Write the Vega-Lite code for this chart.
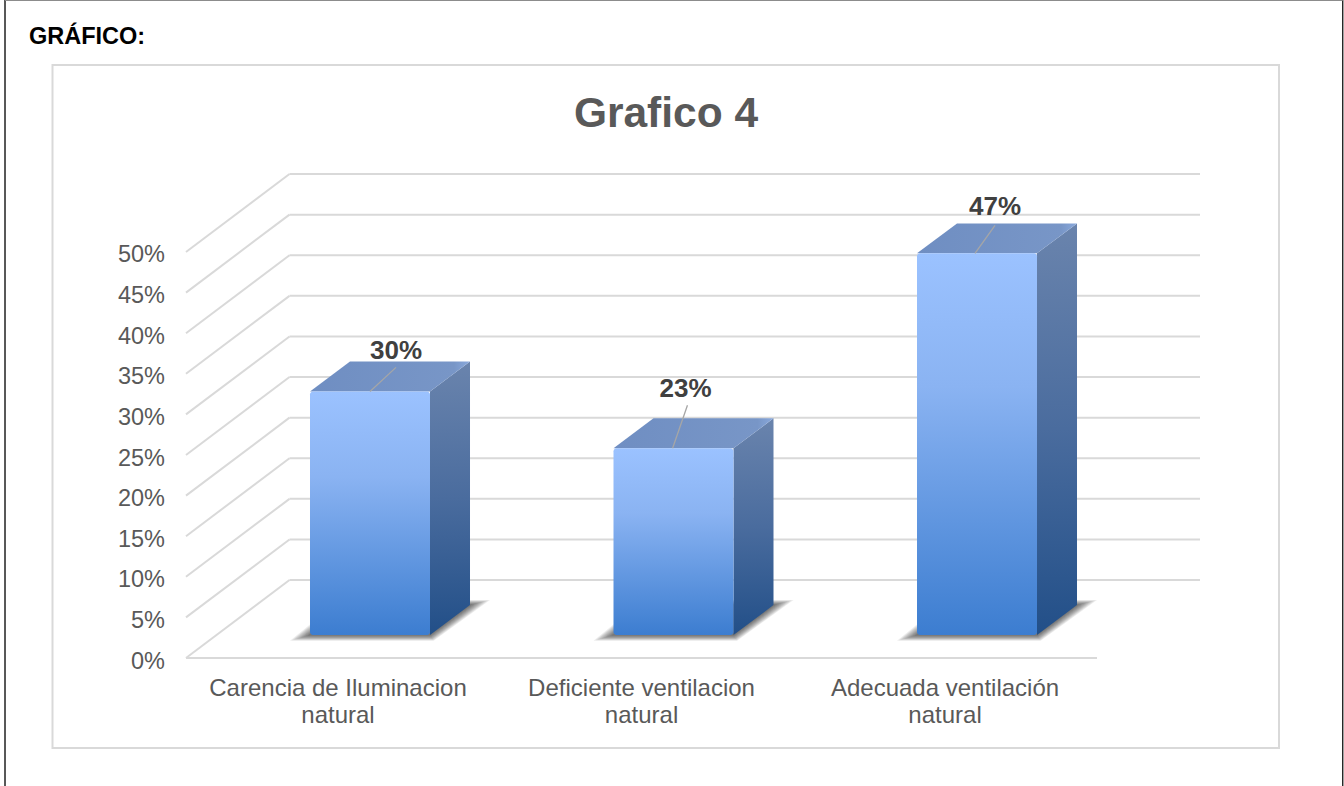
{
  "$schema": "https://vega.github.io/schema/vega-lite/v6.json",
  "width": 1344,
  "height": 786,
  "padding": 0,
  "autosize": "none",
  "background": "#ffffff",
  "title": {
    "text": "Grafico 4",
    "anchor": "middle",
    "frame": "group",
    "dx": -6,
    "dy": 140,
    "font": "Liberation Sans",
    "fontSize": 42.5,
    "fontWeight": "bold",
    "color": "#595959"
  },
  "config": {"view": {"stroke": null}},
  "params": [
    {"name": "semiancho", "value": 0.1977},
    {"name": "fondoX", "value": 0.1318},
    {"name": "fondoY", "value": 3.69},
    {"name": "suelo", "value": 2.83},
    {"name": "paredX", "value": 0.7348},
    {"name": "paredY", "value": 9.6}
  ],
  "datasets": {
    "barras": [
      {"indice": 1, "categoria": "Carencia de Iluminacion\nnatural", "valor": 30},
      {"indice": 2, "categoria": "Deficiente ventilacion\nnatural", "valor": 23},
      {"indice": 3, "categoria": "Adecuada ventilación\nnatural", "valor": 47}
    ],
    "niveles": [
      {"nivel": 0}, {"nivel": 5}, {"nivel": 10}, {"nivel": 15}, {"nivel": 20}, {"nivel": 25},
      {"nivel": 30}, {"nivel": 35}, {"nivel": 40}, {"nivel": 45}, {"nivel": 50}
    ],
    "unico": [{"texto": "GRÁFICO:"}]
  },
  "layer": [
    {
      "data": {"name": "unico"},
      "mark": {"type": "rect", "fill": null, "stroke": "#d9d9d9", "strokeWidth": 2},
      "encoding": {
        "x": {"datum": -0.0461, "type": "quantitative", "axis": null, "scale": {"domain": [-0.2191, 4.2092], "range": [0, 1344], "nice": false, "zero": false}},
        "x2": {"datum": 3.995},
        "y": {"datum": 73.03, "type": "quantitative", "axis": null, "scale": {"domain": [-15.76, 81.03], "range": [786, 0], "nice": false, "zero": false}},
        "y2": {"datum": -11.08}
      }
    },
    {
      "data": {"name": "unico"},
      "mark": {"type": "rule", "stroke": "#111111", "strokeWidth": 1.4},
      "encoding": {
        "x": {"datum": -0.2026, "type": "quantitative", "axis": null},
        "y": {"datum": 81.03, "type": "quantitative", "axis": null},
        "y2": {"datum": -15.76}
      }
    },
    {
      "data": {"name": "unico"},
      "mark": {"type": "rule", "stroke": "#222222", "strokeWidth": 1.4},
      "encoding": {
        "x": {"datum": 4.205, "type": "quantitative", "axis": null},
        "y": {"datum": 81.03, "type": "quantitative", "axis": null},
        "y2": {"datum": -15.76}
      }
    },
    {
      "data": {"name": "unico"},
      "mark": {"type": "rule", "stroke": "#8c8c8c", "strokeWidth": 1.4},
      "encoding": {
        "x": {"datum": -0.2026, "type": "quantitative", "axis": null},
        "x2": {"datum": 4.205},
        "y": {"datum": 80.98, "type": "quantitative", "axis": null}
      }
    },
    {
      "data": {"name": "unico"},
      "mark": {"type": "text", "align": "left", "baseline": "middle", "dy": 1, "font": "Liberation Sans", "fontSize": 23.5, "fontWeight": "bold", "color": "#000000"},
      "encoding": {
        "x": {"datum": -0.1236, "type": "quantitative", "axis": null},
        "y": {"datum": 76.6, "type": "quantitative", "axis": null},
        "text": {"field": "texto"}
      }
    },
    {
      "data": {"name": "niveles"},
      "transform": [{"calculate": "datum.nivel + '%'", "as": "rotulo"}],
      "mark": {"type": "text", "align": "right", "baseline": "middle", "dy": 3.5, "font": "Liberation Sans", "fontSize": 23.5, "color": "#595959"},
      "encoding": {
        "x": {"datum": 0.3245, "type": "quantitative", "axis": null},
        "y": {"field": "nivel", "type": "quantitative", "axis": null},
        "text": {"field": "rotulo"}
      }
    },
    {
      "data": {"name": "niveles"},
      "transform": [{"calculate": "datum.nivel + paredY", "as": "fondo"}],
      "mark": {"type": "rule", "stroke": "#d9d9d9", "strokeWidth": 2},
      "encoding": {
        "x": {"datum": 0.3937, "type": "quantitative", "axis": null},
        "x2": {"datum": 0.7348},
        "y": {"field": "nivel", "type": "quantitative", "axis": null},
        "y2": {"field": "fondo"}
      }
    },
    {
      "data": {"name": "niveles"},
      "transform": [{"calculate": "datum.nivel + paredY", "as": "fondo"}],
      "mark": {"type": "rule", "stroke": "#d9d9d9", "strokeWidth": 2},
      "encoding": {
        "x": {"datum": 0.7348, "type": "quantitative", "axis": null},
        "x2": {"datum": 3.7348},
        "y": {"field": "fondo", "type": "quantitative", "axis": null}
      }
    },
    {
      "data": {"name": "unico"},
      "mark": {"type": "rule", "stroke": "#d9d9d9", "strokeWidth": 2},
      "encoding": {
        "x": {"datum": 0.3937, "type": "quantitative", "axis": null},
        "x2": {"datum": 3.3954},
        "y": {"datum": 0, "type": "quantitative", "axis": null}
      }
    },
    {
      "data": {"name": "barras"},
      "transform": [
        {"calculate": "[1, 2, 3, 4, 5, 6, 7, 8, 9, 10]", "as": "capa"},
        {"flatten": ["capa"]},
        {"calculate": "[0, 1]", "as": "prof"},
        {"flatten": ["prof"]},
        {"calculate": "datum.capa / 10", "as": "t"},
        {"calculate": "datum.indice - semiancho + datum.prof * fondoX - (datum.prof ? 0.033 : 0.066) * datum.t", "as": "izq"},
        {"calculate": "datum.indice + semiancho + datum.prof * fondoX + (datum.prof ? 0.066 : 0.012) * datum.t", "as": "der"},
        {"calculate": "suelo + datum.prof * fondoY + (datum.prof ? 0.62 : -0.7) * datum.t", "as": "alto"},
        {"calculate": "datum.indice + '-' + datum.capa", "as": "grupo"}
      ],
      "mark": {"type": "area", "orient": "horizontal", "color": "#000000", "opacity": 0.07, "stroke": null},
      "encoding": {
        "y": {"field": "alto", "type": "quantitative", "axis": null, "stack": null},
        "x": {"field": "izq", "type": "quantitative", "axis": null, "stack": null},
        "x2": {"field": "der"},
        "detail": {"field": "grupo"}
      }
    },
    {
      "data": {"name": "barras"},
      "transform": [
        {"calculate": "[0, 1]", "as": "prof"},
        {"flatten": ["prof"]},
        {"calculate": "datum.indice + semiancho + datum.prof * fondoX", "as": "xLado"},
        {"calculate": "datum.valor + suelo + datum.prof * fondoY", "as": "yCima"},
        {"calculate": "suelo + datum.prof * fondoY", "as": "yBase"}
      ],
      "mark": {
        "type": "area",
        "stroke": null,
        "color": {
          "gradient": "linear", "x1": 0, "y1": 0, "x2": 0, "y2": 1,
          "stops": [
            {"offset": 0, "color": "#6a84ad"},
            {"offset": 0.5, "color": "#4a6c9e"},
            {"offset": 1, "color": "#224f88"}
          ]
        }
      },
      "encoding": {
        "x": {"field": "xLado", "type": "quantitative", "axis": null},
        "y": {"field": "yCima", "type": "quantitative", "axis": null, "stack": null},
        "y2": {"field": "yBase"},
        "detail": {"field": "indice"}
      }
    },
    {
      "data": {"name": "barras"},
      "transform": [
        {"calculate": "[0, 1]", "as": "prof"},
        {"flatten": ["prof"]},
        {"calculate": "datum.valor + suelo + datum.prof * fondoY", "as": "yTapa"},
        {"calculate": "datum.indice - semiancho + datum.prof * fondoX", "as": "xIzq"},
        {"calculate": "datum.indice + semiancho + datum.prof * fondoX", "as": "xDer"}
      ],
      "mark": {
        "type": "area",
        "orient": "horizontal",
        "stroke": null,
        "color": {
          "gradient": "linear", "x1": 0, "y1": 0, "x2": 1, "y2": 0,
          "stops": [
            {"offset": 0, "color": "#6f8ec2"},
            {"offset": 0.9, "color": "#7896c7"},
            {"offset": 1, "color": "#8aa9dc"}
          ]
        }
      },
      "encoding": {
        "y": {"field": "yTapa", "type": "quantitative", "axis": null, "stack": null},
        "x": {"field": "xIzq", "type": "quantitative", "axis": null, "stack": null},
        "x2": {"field": "xDer"},
        "detail": {"field": "indice"}
      }
    },
    {
      "data": {"name": "barras"},
      "transform": [
        {"calculate": "datum.indice - semiancho", "as": "xIzq"},
        {"calculate": "datum.indice + semiancho", "as": "xDer"},
        {"calculate": "datum.valor + suelo", "as": "yCima"},
        {"calculate": "suelo", "as": "yBase"}
      ],
      "mark": {
        "type": "rect",
        "cornerRadius": 3,
        "fill": {
          "gradient": "linear", "x1": 0, "y1": 0, "x2": 0, "y2": 1,
          "stops": [
            {"offset": 0, "color": "#9bc2ff"},
            {"offset": 0.35, "color": "#8ab3f2"},
            {"offset": 1, "color": "#3c7dd0"}
          ]
        }
      },
      "encoding": {
        "x": {"field": "xIzq", "type": "quantitative", "axis": null},
        "x2": {"field": "xDer"},
        "y": {"field": "yCima", "type": "quantitative", "axis": null},
        "y2": {"field": "yBase"}
      }
    },
    {
      "data": {"name": "barras"},
      "transform": [
        {"calculate": "datum.valor + suelo", "as": "yCima"},
        {"calculate": "datum.yCima + {1: 2.96, 2: 5.3, 3: 3.45}[datum.indice]", "as": "yGuia"},
        {"calculate": "datum.indice + {1: 0.0857, 2: 0.046, 3: 0.0593}[datum.indice]", "as": "xGuia"},
        {"calculate": "datum.indice + {1: 0, 2: -0.003, 3: -0.0066}[datum.indice]", "as": "xPie"}
      ],
      "mark": {"type": "rule", "stroke": "#a6a6a6", "strokeWidth": 1.3},
      "encoding": {
        "x": {"field": "xPie", "type": "quantitative", "axis": null},
        "x2": {"field": "xGuia"},
        "y": {"field": "yCima", "type": "quantitative", "axis": null},
        "y2": {"field": "yGuia"}
      }
    },
    {
      "data": {"name": "barras"},
      "transform": [
        {"calculate": "datum.valor + suelo + {1: 5.05, 2: 7.39, 3: 5.79}[datum.indice]", "as": "yEtiqueta"},
        {"calculate": "datum.indice + {1: 0.0857, 2: 0.0395, 3: 0.0593}[datum.indice]", "as": "xEtiqueta"},
        {"calculate": "datum.valor + '%'", "as": "rotulo"}
      ],
      "mark": {"type": "text", "baseline": "middle", "align": "center", "dy": 1, "font": "Liberation Sans", "fontSize": 26, "fontWeight": "bold", "color": "#404040"},
      "encoding": {
        "x": {"field": "xEtiqueta", "type": "quantitative", "axis": null},
        "y": {"field": "yEtiqueta", "type": "quantitative", "axis": null},
        "text": {"field": "rotulo"}
      }
    },
    {
      "data": {"name": "barras"},
      "transform": [
        {"calculate": "datum.indice - 0.1054", "as": "xRotulo"},
        {"calculate": "-3.69", "as": "yRotulo"}
      ],
      "mark": {"type": "text", "baseline": "middle", "align": "center", "dy": 1, "lineBreak": "\n", "lineHeight": 27, "font": "Liberation Sans", "fontSize": 24, "color": "#595959"},
      "encoding": {
        "x": {"field": "xRotulo", "type": "quantitative", "axis": null},
        "y": {"field": "yRotulo", "type": "quantitative", "axis": null},
        "text": {"field": "categoria"}
      }
    }
  ]
}
